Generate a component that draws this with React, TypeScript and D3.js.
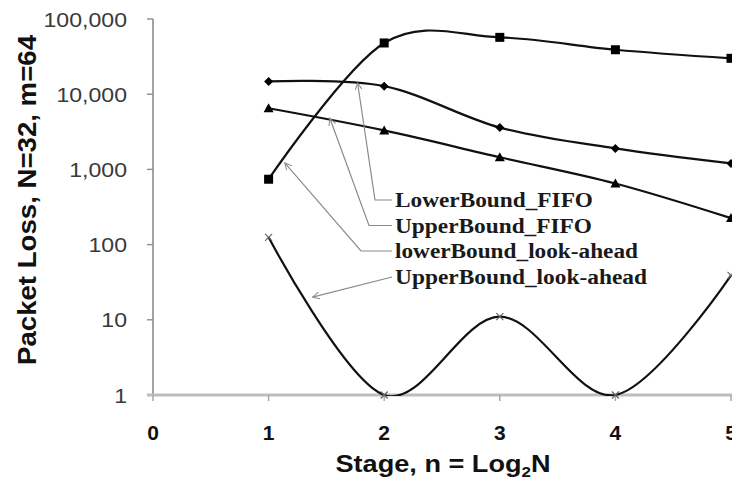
import React from "react";
import * as d3 from "d3";

// chart values
const stages = [1, 2, 3, 4, 5];
const squareSeries = [740, 48000, 57000, 39000, 30000];
const diamondSeries = [14800, 12800, 3600, 1900, 1200];
const triangleSeries = [6500, 3300, 1450, 650, 225];
const crossSeries = [125, 1, 11, 1, 39];
const yTicks = [1, 10, 100, 1000, 10000, 100000];
const xTicks = [0, 1, 2, 3, 4, 5];

const labels = ["LowerBound_FIFO", "UpperBound_FIFO", "lowerBound_look-ahead", "UpperBound_look-ahead"];
// where each label's leader arrow points, in data units
const tipStage = [1.77, 1.53, 1.14, 1.38];
const tipLoss = [14100, 4800, 1220, 20];

const width = 732;
const height = 480;

const App = () => {
  const x = d3.scaleLinear().domain([0, 5]).range([153, 731]);
  const y = d3.scaleLog().domain([1, 100000]).range([395, 19]);

  const line = d3
    .line<number>()
    .x((d, i) => x(stages[i]))
    .y(d => y(d))
    .curve(d3.curveCatmullRom.alpha(0));

  const fmt = d3.format(",");

  // label layout
  const labelX = 395;
  const baselines = [207, 232.5, 258, 284];
  const elbows = [375, 369, 361, null];
  const textWidths = [198, 197, 243, 252];

  const sq = 9;
  const tri = (cx: number, cy: number) =>
    `M${cx},${cy - 5} L${cx + 5},${cy + 4} L${cx - 5},${cy + 4} Z`;
  const dia = (cx: number, cy: number) =>
    `M${cx},${cy - 4.5} L${cx + 4.5},${cy} L${cx},${cy + 4.5} L${cx - 4.5},${cy} Z`;

  return (
    <svg
      width={width}
      height={height}
      style={{ position: "absolute", left: 0, top: 0, background: "#fff" }}
    >
      <defs>
        <clipPath id="plot">
          <rect x={140} y={0} width={600} height={396} />
        </clipPath>
        <marker id="arr" viewBox="0 0 8 8" refX="7" refY="4" markerWidth="8" markerHeight="8" orient="auto" markerUnits="userSpaceOnUse">
          <path d="M0,0.5 L7,4 L0,7.5" fill="none" stroke="#8a8a8a" strokeWidth={1} />
        </marker>
      </defs>

      {/* y axis */}
      <line x1={x(0)} x2={x(0)} y1={y(100000)} y2={y(1)} stroke="#8c8c8c" strokeWidth={1.6} />
      {yTicks.map(t => (
        <g key={t}>
          <line x1={x(0) - 6} x2={x(0)} y1={y(t)} y2={y(t)} stroke="#8c8c8c" strokeWidth={1.4} />
          <text
            transform={`translate(127,${y(t) + 7.5}) scale(1.1,1)`}
            textAnchor="end"
            fontFamily="Liberation Sans, Arial, sans-serif"
            fontSize={21}
            fill="#3a3a3a"
          >
            {fmt(t)}
          </text>
        </g>
      ))}

      {/* x axis */}
      <line x1={x(0) - 6} x2={width} y1={y(1)} y2={y(1)} stroke="#bdbdbd" strokeWidth={3} />
      {xTicks.map(t => (
        <g key={t}>
          <line x1={x(t)} x2={x(t)} y1={y(1)} y2={y(1) + 6} stroke="#a8a8a8" strokeWidth={1.5} />
          <text
            x={x(t)}
            y={440}
            textAnchor="middle"
            fontFamily="Liberation Sans, Arial, sans-serif"
            fontWeight="bold"
            fontSize={21}
            fill="#111"
          >
            {t}
          </text>
        </g>
      ))}

      {/* axis titles */}
      <text
        transform="translate(443,472) scale(1.13,1)"
        textAnchor="middle"
        fontFamily="Liberation Sans, Arial, sans-serif"
        fontWeight="bold"
        fontSize={24}
        fill="#111"
      >
        Stage, n = Log<tspan fontSize={15} dy={5}>2</tspan>
        <tspan dy={-5}>N</tspan>
      </text>
      <text
        transform="translate(36,200) rotate(-90)"
        textAnchor="middle"
        fontFamily="Liberation Sans, Arial, sans-serif"
        fontWeight="bold"
        fontSize={25}
        textLength={330}
        lengthAdjust="spacingAndGlyphs"
        fill="#111"
      >
        Packet Loss, N=32, m=64
      </text>

      {/* series lines */}
      <g clipPath="url(#plot)" fill="none" stroke="#111" strokeWidth={2.2}>
        <path d={line(squareSeries) ?? ""} />
        <path d={line(diamondSeries) ?? ""} />
        <path d={line(triangleSeries) ?? ""} />
        <path d={line(crossSeries) ?? ""} />
      </g>

      {/* markers */}
      <g fill="#000">
        {squareSeries.map((v, i) => (
          <rect key={"s" + i} x={x(stages[i]) - sq / 2} y={y(v) - sq / 2} width={sq} height={sq} />
        ))}
        {diamondSeries.map((v, i) => (
          <path key={"d" + i} d={dia(x(stages[i]), y(v))} />
        ))}
        {triangleSeries.map((v, i) => (
          <path key={"t" + i} d={tri(x(stages[i]), y(v))} />
        ))}
      </g>
      <g stroke="#666" strokeWidth={1.2}>
        {crossSeries.map((v, i) => {
          const cx = x(stages[i]);
          const cy = y(v);
          return (
            <g key={"x" + i}>
              <line x1={cx - 3.5} x2={cx + 3.5} y1={cy - 3.5} y2={cy + 3.5} />
              <line x1={cx - 3.5} x2={cx + 3.5} y1={cy + 3.5} y2={cy - 3.5} />
            </g>
          );
        })}
      </g>

      {/* labels with leader arrows */}
      {labels.map((name, i) => {
        const sy = baselines[i] - 7;
        const tx = x(tipStage[i]);
        const ty = y(tipLoss[i]);
        const e = elbows[i];
        const d = e === null
          ? `M${labelX - 3},${sy} L${tx},${ty}`
          : `M${labelX - 3},${sy} L${e},${sy} L${tx},${ty}`;
        return (
          <g key={name}>
            <path d={d} fill="none" stroke="#8a8a8a" strokeWidth={1.2} markerEnd="url(#arr)" />
            <text
              x={labelX}
              y={baselines[i]}
              fontFamily="Liberation Serif, Times New Roman, serif"
              fontWeight="bold"
              fontSize={20.5}
              textLength={textWidths[i]}
              lengthAdjust="spacingAndGlyphs"
              fill="#1a1a1a"
            >
              {name}
            </text>
          </g>
        );
      })}
    </svg>
  );
};

export default App;
